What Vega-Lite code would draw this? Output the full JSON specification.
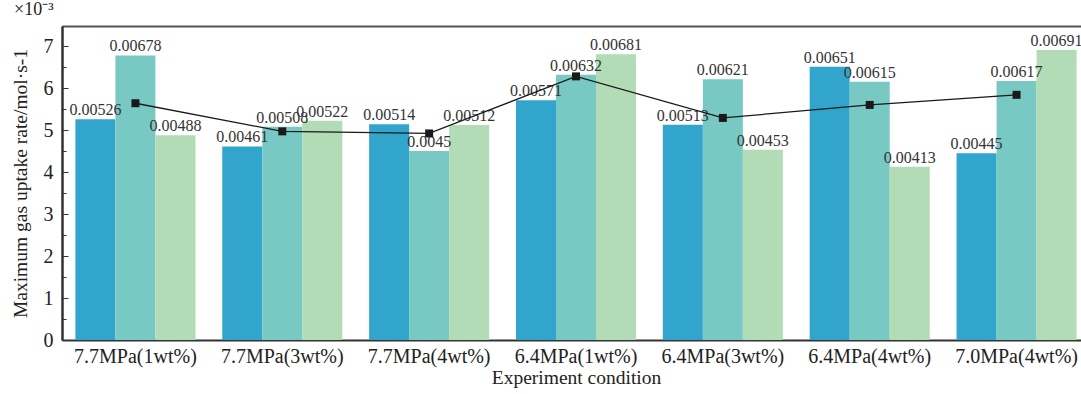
{
  "$schema": "https://vega.github.io/schema/vega-lite/v6.json",
  "autosize": "none",
  "width": 1019,
  "height": 314,
  "padding": {"left": 62, "top": 26, "right": 0, "bottom": 54},
  "background": "white",
  "config": {
    "view": {"stroke": null},
    "font": "Liberation Serif",
    "axis": {"labelFont": "Liberation Serif", "titleFont": "Liberation Serif", "labelFontSize": 20, "titleFontSize": 19.5, "labelColor": "#222", "titleColor": "#222", "titleFontWeight": "normal", "domainColor": "#333", "domainWidth": 2, "tickColor": "#333", "grid": false},
    "title": {"font": "Liberation Serif", "fontWeight": "normal", "fontSize": 18, "color": "#222"}
  },
  "title": {"text": "×10⁻³", "anchor": "start", "dx": 4, "offset": 7},
  "datasets": {
    "bars": [
      {"condition": "7.7MPa(1wt%)", "s": "a", "value": 5.26, "label": "0.00526"},
      {"condition": "7.7MPa(1wt%)", "s": "b", "value": 6.78, "label": "0.00678"},
      {"condition": "7.7MPa(1wt%)", "s": "c", "value": 4.88, "label": "0.00488"},
      {"condition": "7.7MPa(3wt%)", "s": "a", "value": 4.61, "label": "0.00461"},
      {"condition": "7.7MPa(3wt%)", "s": "b", "value": 5.08, "label": "0.00508"},
      {"condition": "7.7MPa(3wt%)", "s": "c", "value": 5.22, "label": "0.00522"},
      {"condition": "7.7MPa(4wt%)", "s": "a", "value": 5.14, "label": "0.00514"},
      {"condition": "7.7MPa(4wt%)", "s": "b", "value": 4.50, "label": "0.0045"},
      {"condition": "7.7MPa(4wt%)", "s": "c", "value": 5.12, "label": "0.00512"},
      {"condition": "6.4MPa(1wt%)", "s": "a", "value": 5.71, "label": "0.00571"},
      {"condition": "6.4MPa(1wt%)", "s": "b", "value": 6.32, "label": "0.00632"},
      {"condition": "6.4MPa(1wt%)", "s": "c", "value": 6.81, "label": "0.00681"},
      {"condition": "6.4MPa(3wt%)", "s": "a", "value": 5.13, "label": "0.00513"},
      {"condition": "6.4MPa(3wt%)", "s": "b", "value": 6.21, "label": "0.00621"},
      {"condition": "6.4MPa(3wt%)", "s": "c", "value": 4.53, "label": "0.00453"},
      {"condition": "6.4MPa(4wt%)", "s": "a", "value": 6.51, "label": "0.00651"},
      {"condition": "6.4MPa(4wt%)", "s": "b", "value": 6.15, "label": "0.00615"},
      {"condition": "6.4MPa(4wt%)", "s": "c", "value": 4.13, "label": "0.00413"},
      {"condition": "7.0MPa(4wt%)", "s": "a", "value": 4.45, "label": "0.00445"},
      {"condition": "7.0MPa(4wt%)", "s": "b", "value": 6.17, "label": "0.00617"},
      {"condition": "7.0MPa(4wt%)", "s": "c", "value": 6.91, "label": "0.00691"}
    ],
    "means": [
      {"condition": "7.7MPa(1wt%)", "mean": 5.64},
      {"condition": "7.7MPa(3wt%)", "mean": 4.97},
      {"condition": "7.7MPa(4wt%)", "mean": 4.92},
      {"condition": "6.4MPa(1wt%)", "mean": 6.28},
      {"condition": "6.4MPa(3wt%)", "mean": 5.29},
      {"condition": "6.4MPa(4wt%)", "mean": 5.60},
      {"condition": "7.0MPa(4wt%)", "mean": 5.84}
    ]
  },
  "resolve": {"axis": {"x": "independent", "y": "independent"}},
  "layer": [
    {
      "data": {"name": "bars"},
      "mark": {"type": "bar"},
      "encoding": {
        "x": {"field": "condition", "type": "nominal", "sort": null,
              "scale": {"range": [0, 1028], "paddingInner": 0, "paddingOuter": 0},
              "axis": {"orient": "bottom", "title": "Experiment condition", "labelAngle": 0, "tickSize": -6, "labelPadding": 12, "titlePadding": 2}},
        "xOffset": {"field": "s", "type": "nominal", "scale": {"paddingInner": 0, "paddingOuter": 0.335}},
        "y": {"field": "value", "type": "quantitative",
              "scale": {"domain": [0, 7.48], "nice": false},
              "axis": {"orient": "left", "values": [0,1,2,3,4,5,6,7], "tickSize": -6, "labelPadding": 15, "title": "Maximum gas uptake rate/mol·s-1", "titlePadding": 13}},
        "color": {"field": "s", "type": "nominal", "legend": null,
                  "scale": {"domain": ["a","b","c"], "range": ["#32a5cc", "#78c9c4", "#b2dcb6"]}}
      }
    },
    {
      "data": {"name": "bars"},
      "mark": {"type": "text", "baseline": "bottom", "dy": -1, "fontSize": 16, "color": "#333", "font": "Liberation Serif"},
      "encoding": {
        "x": {"field": "condition", "type": "nominal", "sort": null, "axis": null},
        "xOffset": {"field": "s", "type": "nominal"},
        "y": {"field": "value", "type": "quantitative", "axis": null},
        "text": {"field": "label", "type": "nominal"}
      }
    },
    {
      "data": {"name": "means"},
      "mark": {"type": "line", "color": "#1a1a1a", "strokeWidth": 1.3,
               "point": {"shape": "square", "size": 64, "filled": true, "color": "#1a1a1a"}},
      "encoding": {
        "x": {"field": "condition", "type": "nominal", "sort": null,
              "axis": {"orient": "top", "labels": false, "ticks": false, "title": null, "domainColor": "#555"}},
        "y": {"field": "mean", "type": "quantitative",
              "axis": {"orient": "left", "values": [0.5,1.5,2.5,3.5,4.5,5.5,6.5], "tickSize": -4, "labels": false, "title": null}}
      }
    }
  ]
}
